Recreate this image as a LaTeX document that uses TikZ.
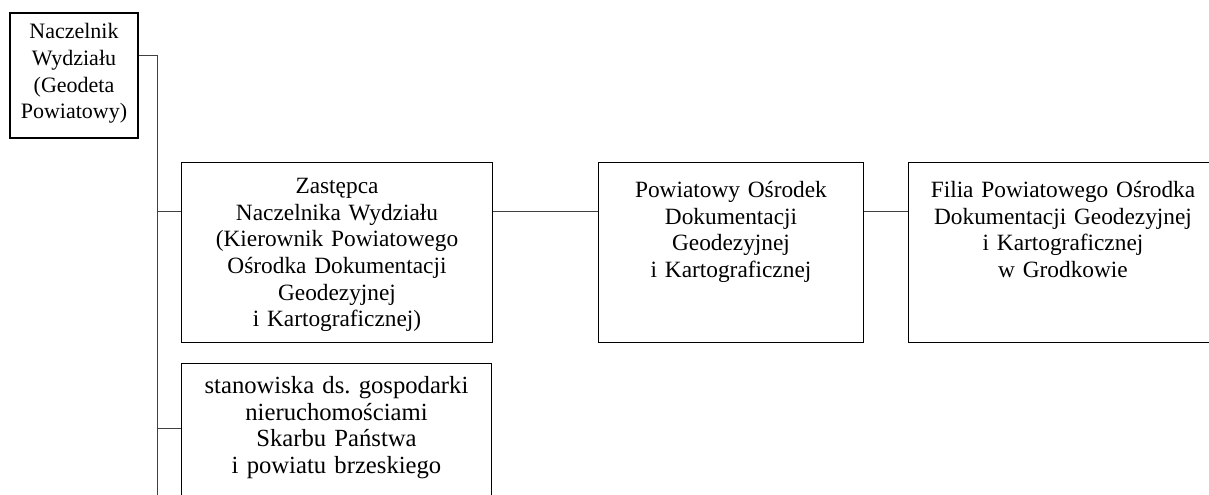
\documentclass[tikz,border=0pt]{standalone}
\usepackage{fontspec}
\setmainfont{Liberation Serif}
\usetikzlibrary{positioning, calc}
\definecolor{LineGray}{HTML}{404040}
\frenchspacing

\begin{document}
\begin{tikzpicture}[x=0.75pt, y=-0.75pt,
    unit/.style={draw=black, line width=0.75pt, anchor=north west, inner sep=0pt, align=center, font=\fontsize{17.5}{20}\selectfont},
    link/.style={draw=LineGray, line width=0.75pt}]
    \useasboundingbox (0,0) rectangle (1209,495);
    \clip (0,0) rectangle (1209,495);

    % --- Head of the department ---
    \node[unit, line width=1.5pt, font=\fontsize{16.5}{20}\selectfont, text width=96pt, text height=19.5pt, text depth=74.3pt] (nacz) at (9,12) {Naczelnik\\Wydziału\\(Geodeta\\Powiatowy)};

    % --- Units ---
    \node[unit, text width=233.25pt, text height=23.3pt, text depth=111.7pt] (zast) at (181,162) {Zastępca\\Naczelnika Wydziału\\(Kierownik Powiatowego\\Ośrodka Dokumentacji\\Geodezyjnej\\i Kartograficznej)};
    \node[unit, text width=198.75pt, text height=26.3pt, text depth=108.7pt] (pod) at (598,162) {Powiatowy Ośrodek\\Dokumentacji\\Geodezyjnej\\i Kartograficznej};
    \node[unit, text width=231.75pt, text height=26.3pt, text depth=108.7pt] (filia) at (908,162) {Filia Powiatowego Ośrodka\\Dokumentacji Geodezyjnej\\i Kartograficznej\\w Grodkowie};
    \node[unit, font=\fontsize{18.5}{20}\selectfont, text width=232.5pt, text height=22.5pt, text depth=95.3pt] (stan) at (181,363) {stanowiska ds. gospodarki\\nieruchomościami\\Skarbu Państwa\\i powiatu brzeskiego};

    % --- Connectors ---
    \coordinate (spine) at (157,56);
    \coordinate (spineend) at (157,500);
    \draw[link] ([yshift=-33pt]nacz.north east) -- (spine) -- (spineend);

    \coordinate (zastin) at ([yshift=-37.5pt]zast.north west);
    \draw[link] (spine |- zastin) -- (zastin);
    \draw[link] (zastin -| zast.east) -- (zastin -| pod.west);
    \draw[link] (zastin -| pod.east) -- (zastin -| filia.west);

    \coordinate (stanin) at ([yshift=-48.75pt]stan.north west);
    \draw[link] (spine |- stanin) -- (stanin); % lower branch
\end{tikzpicture}
\end{document}
